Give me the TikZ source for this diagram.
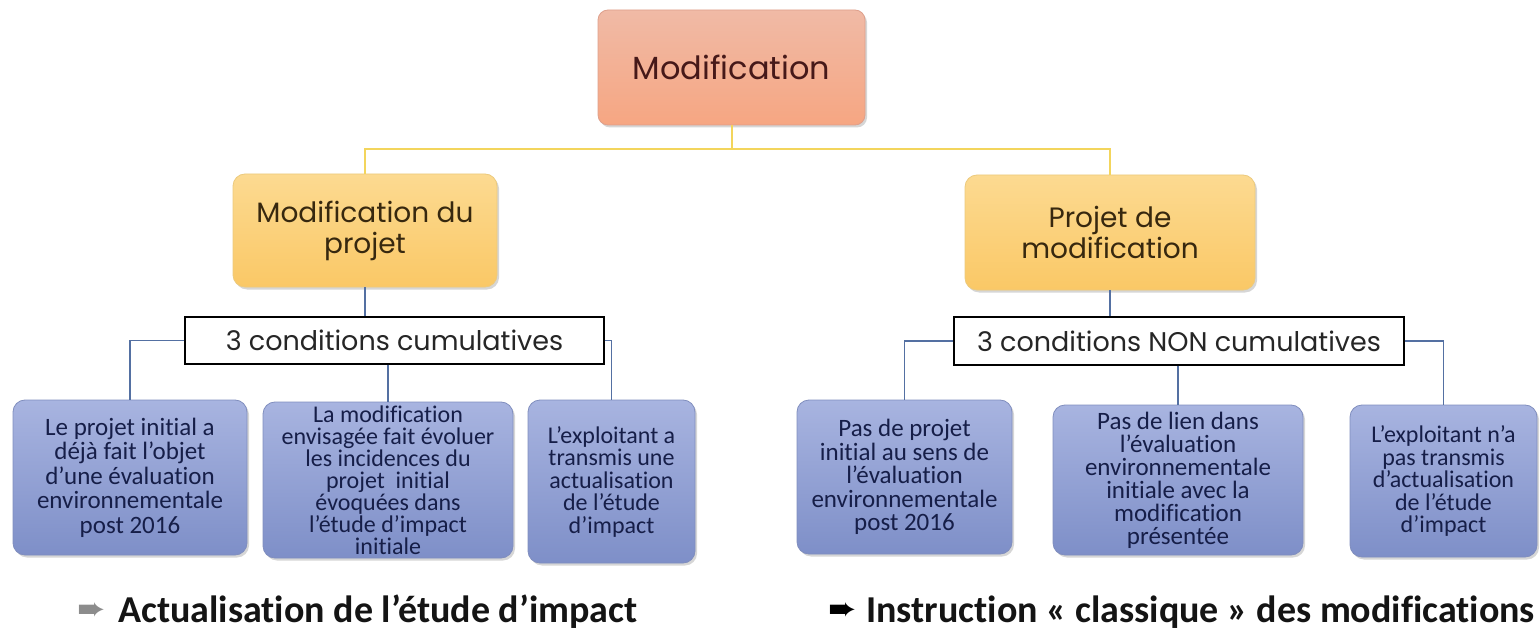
\documentclass[tikz,border=0pt]{standalone}
\usepackage{fontspec}
\setmainfont{Carlito}[Ligatures={TeX,NoCommon}]
\newfontfamily\geo{Poppins}
\newfontfamily\dejavu{DejaVu Sans}
\usetikzlibrary{shadows}
\definecolor{salmonTop}{RGB}{240,186,166}
\definecolor{salmonBot}{RGB}{246,166,130}
\definecolor{salmonEdge}{RGB}{222,160,140}
\definecolor{yelTop}{RGB}{252,218,145}
\definecolor{yelBot}{RGB}{250,200,102}
\definecolor{yelEdge}{RGB}{236,202,125}
\definecolor{bluTop}{RGB}{168,180,224}
\definecolor{bluBot}{RGB}{126,143,200}
\definecolor{bluEdge}{RGB}{128,142,190}
\definecolor{yline}{RGB}{243,213,92}
\definecolor{bline}{RGB}{84,112,162}
\definecolor{navytext}{RGB}{22,30,72}
\definecolor{titletext}{RGB}{70,25,25}
\definecolor{yeltext}{RGB}{55,40,15}
\definecolor{arrowgray}{RGB}{140,140,140}
\begin{document}
\begin{tikzpicture}[x=1pt,y=-1pt,
  softshadow/.style={drop shadow={shadow xshift=2pt,shadow yshift=-2.5pt,fill=black!35,opacity=0.45}},
  titlebox/.style={draw=salmonEdge,line width=0.8pt,rounded corners=10pt,top color=salmonTop,bottom color=salmonBot,inner sep=0pt,align=center,font=\geo\fontsize{32}{36}\selectfont,text=titletext,softshadow},
  yelbox/.style={draw=yelEdge,line width=0.8pt,rounded corners=12pt,top color=yelTop,bottom color=yelBot,inner sep=0pt,align=center,font=\geo\fontsize{28}{31}\selectfont,text=yeltext,softshadow},
  condbox/.style={draw=black,line width=1.1pt,fill=white,inner sep=0pt,align=center,font=\geo\fontsize{27}{30}\selectfont,text=black!85},
  childbox/.style={draw=bluEdge,line width=0.8pt,rounded corners=12pt,top color=bluTop,bottom color=bluBot,inner sep=0pt,align=center,font=\fontsize{24}{22.5}\selectfont,text=navytext,softshadow},
  yconn/.style={draw=yline,line width=2pt},
  bthick/.style={draw=bline,line width=2.8pt},
  bthin/.style={draw=bline,line width=1.5pt},
  bottomtext/.style={anchor=base west,inner sep=0pt,font=\bfseries\fontsize{38}{40}\selectfont,text=black!92},
  arrowmark/.style={anchor=base,inner sep=0pt,font=\dejavu\fontsize{34}{34}\selectfont}]
\useasboundingbox (0,0) rectangle (1540,639);
\fill[white] (0,0) rectangle (1540,639);

% top level
\node[titlebox,minimum width=267pt,minimum height=115pt] (mod) at (731.5,67.5) {Modification};

% second level
\node[yelbox,minimum width=264pt,minimum height=113pt] (mdp) at (365,230.5) {Modification du\\projet};
\node[yelbox,minimum width=290pt,minimum height=115pt] (pdm) at (1110,232.5) {Projet de\\modification};

% condition boxes
\node[condbox,minimum width=419pt,minimum height=47pt] (condL) at (394.5,340.5) {3 conditions cumulatives};
\node[condbox,minimum width=450pt,minimum height=48pt] (condR) at (1179,341) {3 conditions NON cumulatives};

% children left
\node[childbox,minimum width=234pt,minimum height=155pt,font=\fontsize{25}{24.5}\selectfont] (c1) at (130,477.5) {Le projet initial a\\déjà fait l’objet\\d’une évaluation\\environnementale\\post 2016};
\node[childbox,minimum width=250pt,minimum height=156pt,font=\fontsize{24}{22}\selectfont] (c2) at (388,480) {La modification\\envisagée fait évoluer\\les incidences du\\projet\ \ initial\\évoquées dans\\l’étude d’impact\\initiale};
\node[childbox,minimum width=167pt,minimum height=163pt] (c3) at (611.5,481.5) {L’exploitant a\\transmis une\\actualisation\\de l’étude\\d’impact};

% children right
\node[childbox,minimum width=215pt,minimum height=154pt,font=\fontsize{25}{23.5}\selectfont] (c4) at (904.5,477) {Pas de projet\\initial au sens de\\l’évaluation\\environnementale\\post 2016};
\node[childbox,minimum width=250pt,minimum height=150pt,font=\fontsize{25}{23}\selectfont] (c5) at (1178,480) {Pas de lien dans\\l’évaluation\\environnementale\\initiale avec la\\modification\\présentée};
\node[childbox,minimum width=187pt,minimum height=152pt] (c6) at (1443.5,481) {L’exploitant n’a\\pas transmis\\d’actualisation\\de l’étude\\d’impact};

% connectors top
\coordinate (jt) at (731.5,149);
\draw[yconn] (mod.south) -- (jt);
\draw[yconn] (mdp.north) |- (jt) -| (pdm.north);

\draw[bthick] (mdp.south) -- (mdp.south |- condL.north);
\draw[bthick] (pdm.south) -- (pdm.south |- condR.north);

% connectors to children
\draw[bthin] (condL.west) -| (c1.north);
\draw[bthin] (condL.south -| c2.north) -- (c2.north);
\draw[bthin] (condL.east) -| (c3.north);
\draw[bthin] (condR.west) -| (c4.north);
\draw[bthin] (condR.south -| c5.north) -- (c5.north);
\draw[bthin] (condR.east) -| (c6.north);

% bottom conclusions
\node[arrowmark,text=arrowgray] (arL) at (92,620) {➨};
\node[bottomtext] (txtL) at (118,622) {Actualisation de l’étude d’impact};
\node[arrowmark,text=black] (arR) at (843,620) {➨};
\node[bottomtext] (txtR) at (866,622) {Instruction « classique » des modifications};
\end{tikzpicture}
\end{document}
